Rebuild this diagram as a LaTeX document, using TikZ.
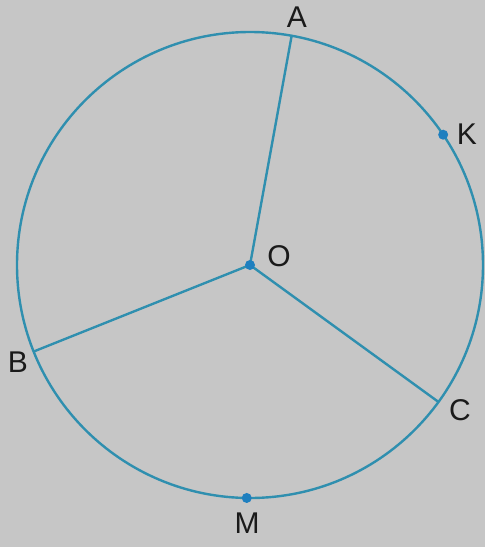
\documentclass[tikz,border=0pt]{standalone}
\usepackage{fontspec}
\setmainfont{Liberation Sans}
\usetikzlibrary{calc}
\definecolor{bg}{HTML}{C6C6C6}
\definecolor{ln}{HTML}{2F8FAF}
\definecolor{dotc}{HTML}{1E7FBF}
\definecolor{txt}{HTML}{1A1A1A}
\begin{document}
\begin{tikzpicture}[x=1pt,y=-1pt,
  line/.style={draw=ln,line width=2.4pt},
  dotm/.style={circle,fill=dotc,inner sep=0pt,minimum size=10pt},
  lbl/.style={text=txt,font=\fontsize{30}{30}\selectfont,inner sep=0pt}]
\fill[bg] (0,0) rectangle (485,547);
\useasboundingbox (0,0) rectangle (485,547);
\coordinate (O) at (250,265);
\draw[line] (O) circle[radius=233pt];
\coordinate (A) at ($(O)+(79.7:233pt)$);
\coordinate (B) at ($(O)+(201.8:233pt)$);
\coordinate (C) at ($(O)+(-36:233pt)$);
\node[dotm] (K) at ($(O)+(34:233pt)$) {};
\node[dotm] (M) at ($(O)+(-90.8:233pt)$) {};
\draw[line] (O) -- (A) (O) -- (B) (O) -- (C);
\node[dotm] (Od) at (O) {};
\node[lbl] (lA) at (297,17) {A};
\node[lbl] (lK) at (467,134) {K};
\node[lbl] (lO) at (279,256) {O};
\node[lbl] (lB) at (18,362) {B};
\node[lbl] (lC) at (460,410) {C};
\node[lbl] (lM) at (247,523) {M};
\end{tikzpicture}
\end{document}
